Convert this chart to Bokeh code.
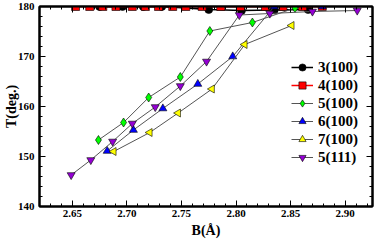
import math
from bokeh.plotting import figure
from bokeh.models import (Range1d, LinearAxis, SingleIntervalTicker, Legend, LegendItem,
                          CustomJSTickFormatter)
from bokeh.embed import file_html
from bokeh.resources import INLINE

# --- data (B in Angstrom, T in degrees) ---
b_3_100 = [2.675, 2.696, 2.715, 2.732, 2.775, 2.805, 2.835, 2.866]
t_3_100 = [180.0, 180.0, 180.0, 180.0, 179.4, 179.2, 179.3, 179.4]

b_4_100 = [2.653, 2.666, 2.678, 2.690, 2.705, 2.717, 2.729, 2.742,
           2.754, 2.769, 2.786, 2.804, 2.827, 2.843, 2.861, 2.879]
t_4_100 = [180.0] * 16

b_5_100 = [2.674, 2.697, 2.720, 2.749, 2.776, 2.815, 2.854]
t_5_100 = [153.3, 156.8, 161.8, 165.9, 175.1, 176.8, 179.7]

b_6_100 = [2.682, 2.706, 2.733, 2.765, 2.797, 2.835, 2.879]
t_6_100 = [151.1, 155.3, 159.6, 164.5, 170.0, 180.0, 180.0]

b_7_100 = [2.688, 2.721, 2.747, 2.778, 2.808, 2.851]
t_7_100 = [151.0, 154.8, 158.7, 163.5, 172.4, 176.2]

b_5_111 = [2.649, 2.667, 2.687, 2.705, 2.726, 2.749, 2.773, 2.803, 2.831, 2.870, 2.911]
t_5_111 = [146.3, 149.3, 153.0, 156.6, 159.9, 164.1, 169.0, 178.3, 178.6, 179.0, 179.2]

labels = ["3(100)", "4(100)", "5(100)", "6(100)", "7(100)", "5(111)"]

FONT = "Liberation Serif"

p = figure(width=374, height=240, output_backend="svg", toolbar_location=None,
           x_range=Range1d(2.62, 2.925), y_range=Range1d(140, 180),
           min_border_left=39, min_border_right=2, min_border_top=6, min_border_bottom=33)
p.background_fill_color = "white"
p.border_fill_color = "white"
p.grid.visible = False
p.outline_line_color = "black"
p.outline_line_width = 2

def style_axis(ax, show_labels):
    ax.axis_line_width = 2
    ax.axis_line_color = "black"
    ax.major_tick_in = 6
    ax.major_tick_out = 0
    ax.minor_tick_in = 3
    ax.minor_tick_out = 0
    ax.major_tick_line_width = 1
    ax.minor_tick_line_width = 1
    if show_labels:
        ax.major_label_text_font = FONT
        ax.major_label_text_font_style = "bold"
        ax.major_label_text_font_size = "11px"
        ax.major_label_text_color = "black"
        ax.axis_label_text_font = FONT
        ax.axis_label_text_font_style = "bold"
        ax.axis_label_text_font_size = "14px"
        ax.axis_label_text_color = "black"
    else:
        ax.formatter = CustomJSTickFormatter(code="return '';")
        ax.major_label_standoff = 0

p.xaxis.ticker = SingleIntervalTicker(interval=0.05, num_minor_ticks=5)
p.yaxis.ticker = SingleIntervalTicker(interval=10, num_minor_ticks=5)
p.xaxis.axis_label = "B(Å)"
p.yaxis.axis_label = "T(deg.)"
style_axis(p.xaxis[0], True)
style_axis(p.yaxis[0], True)
p.xaxis.formatter = CustomJSTickFormatter(code="return tick.toFixed(2);")
p.xaxis.major_label_standoff = 3
p.xaxis.axis_label_standoff = 3
p.yaxis.major_label_standoff = 5
p.yaxis.axis_label_standoff = -4

top = LinearAxis(ticker=SingleIntervalTicker(interval=0.05, num_minor_ticks=5))
right = LinearAxis(ticker=SingleIntervalTicker(interval=10, num_minor_ticks=5))
style_axis(top, False)
style_axis(right, False)
p.add_layout(top, "above")
p.add_layout(right, "right")

series = [
    (b_3_100, t_3_100, "circle", "black", "black", 1.5, 0),
    (b_4_100, t_4_100, "square", "red", "red", 1.5, 0),
    (b_5_100, t_5_100, "diamond", "#00ff00", "#555555", 1, 0),
    (b_6_100, t_6_100, "triangle", "#0000ff", "#555555", 1, 0),
    (b_7_100, t_7_100, "triangle", "#ffff00", "#555555", 1, math.pi / 2),
    (b_5_111, t_5_111, "inverted_triangle", "#9400d3", "#555555", 1, 0),
]

items = []
for (bx, ty, mk, fc, lc, lw, ang), lab in zip(series, labels):
    ln = p.line(bx, ty, line_color=lc, line_width=lw)
    sz = 9 if mk == "diamond" else 8
    sc = p.scatter(bx, ty, marker=mk, size=sz, fill_color=fc, line_color="black",
                   line_width=0.6, angle=ang)
    items.append(LegendItem(label=lab, renderers=[ln, sc]))

leg = Legend(items=items, location=(252, 40))
leg.background_fill_alpha = 0
leg.border_line_alpha = 0
leg.padding = 0
leg.margin = 0
leg.spacing = 0
leg.label_height = 18
leg.glyph_height = 18
leg.glyph_width = 22
leg.label_standoff = 5
leg.label_text_font = FONT
leg.label_text_font_style = "bold"
leg.label_text_font_size = "15px"
leg.label_text_color = "black"
p.add_layout(leg, "center")

open("out.html", "w").write(file_html(p, INLINE))
